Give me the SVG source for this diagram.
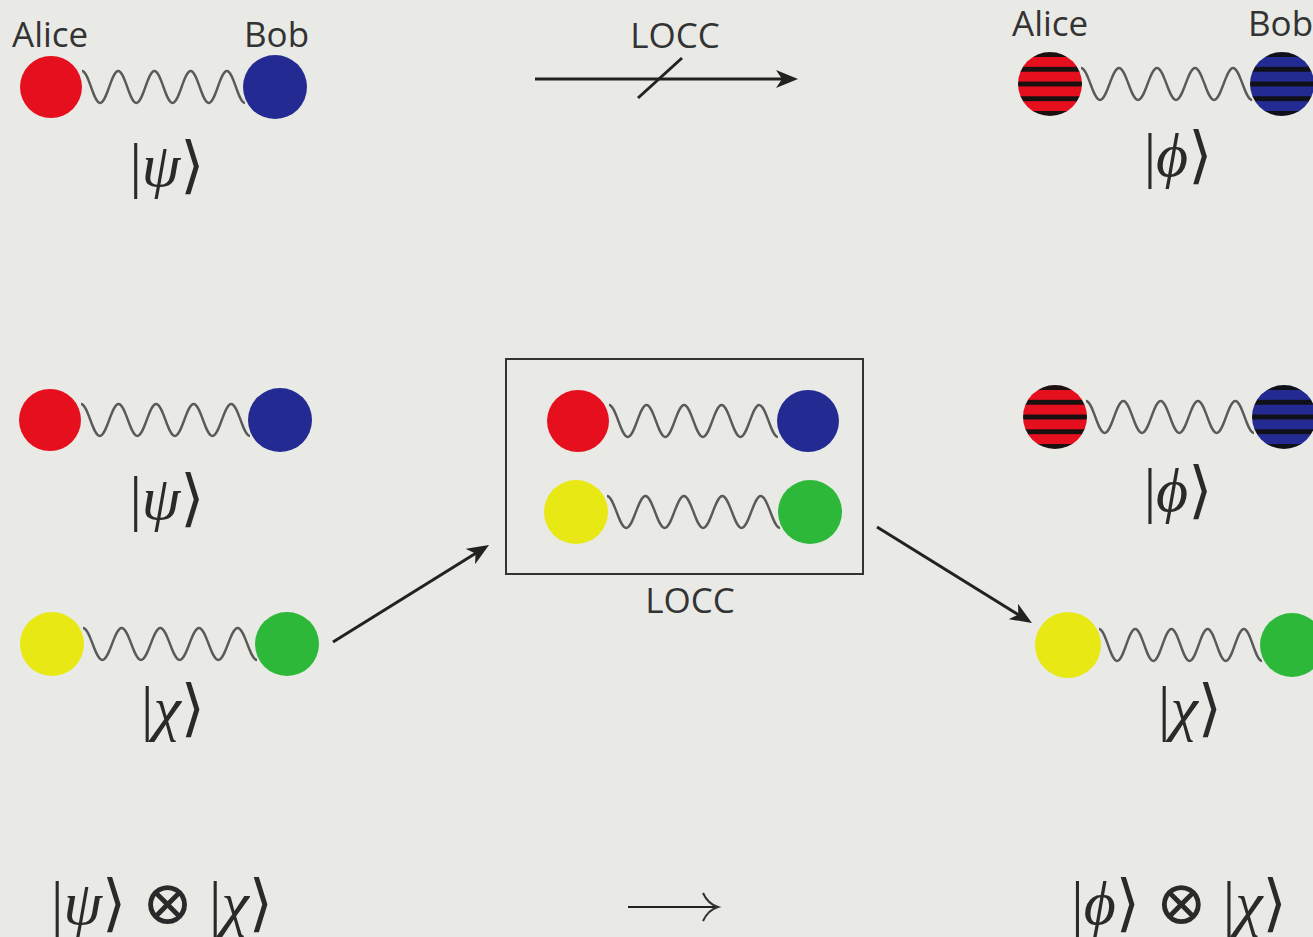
<svg xmlns="http://www.w3.org/2000/svg" xmlns:xlink="http://www.w3.org/1999/xlink" width="1313" height="937" viewBox="0 0 1313 937">
<style>
.lbl{font-family:"Open Sans","Noto Sans","DejaVu Sans",sans-serif;font-size:35px;fill:#333}
.math{font-family:"Liberation Serif","DejaVu Serif",serif;font-size:62px;fill:#2a2a2a}
.it{font-style:italic}
.wave{fill:none;stroke:#5a5a5a;stroke-width:2.4;vector-effect:non-scaling-stroke}
.con{fill:none;stroke:#222;stroke-width:3}
.red{fill:#e60f1e}.blue{fill:#232b92}.yel{fill:#e8e814}.grn{fill:#2eb83a}
</style>
<defs>
<path id="wave" class="wave" d="M0,-16 c6.8,0 11.2,32 18,32 c6.8,0 11.2,-32 18,-32 c6.8,0 11.2,32 18,32 c6.8,0 11.2,-32 18,-32 c6.8,0 11.2,32 18,32 c6.8,0 11.2,-32 18,-32 c6.8,0 11.2,32 18,32 c6.8,0 11.2,-32 18,-32 c6.8,0 11.2,32 18,32"/>
<pattern id="rs" patternUnits="objectBoundingBox" patternContentUnits="objectBoundingBox" x="0" y="0.4615" width="1" height="0.23">
<rect width="1" height="0.23" fill="#e60f1e"/><rect width="1" height="0.077" fill="#1a1010"/>
</pattern>
<pattern id="bs" patternUnits="objectBoundingBox" patternContentUnits="objectBoundingBox" x="0" y="0.4615" width="1" height="0.23">
<rect width="1" height="0.23" fill="#232b92"/><rect width="1" height="0.077" fill="#10101a"/>
</pattern>
<marker id="ah" markerUnits="userSpaceOnUse" markerWidth="22" markerHeight="18" viewBox="0 0 22 18" refX="13" refY="9" orient="auto">
<path d="M0,0 L22,9 L0,18 L6,9 z" fill="#222"/>
</marker>
</defs>
<rect width="1313" height="937" fill="#e9eae5"/>

<g id="connectors">
<path class="con" d="M535,79 H789" marker-end="url(#ah)"/>
<path class="con" d="M638,98 L682,58"/>
<path class="con" d="M333,642 L481.4,549.7" marker-end="url(#ah)"/>
<path class="con" d="M877,527 L1024.3,618.3" marker-end="url(#ah)"/>
<path d="M628,907 H716" fill="none" stroke="#222" stroke-width="2"/>
<path d="M703,893 Q708,904 718,907 Q708,910 703,921" fill="none" stroke="#333" stroke-width="2"/>
</g>

<g id="locc-top-label"><text class="lbl" x="675" y="48" text-anchor="middle">LOCC</text></g>

<g id="pair-psi-top">
<text class="lbl" x="12" y="47">Alice</text>
<text class="lbl" x="244" y="47">Bob</text>
<use href="#wave" transform="translate(82,87) scale(1.006,1)"/>
<circle class="red" cx="51" cy="87" r="31"/>
<circle class="blue" cx="275" cy="87" r="32"/>
<text class="math" x="167" y="186" text-anchor="middle">|<tspan class="it">ψ</tspan>⟩</text>
</g>

<g id="pair-phi-top">
<text class="lbl" x="1012" y="36">Alice</text>
<text class="lbl" x="1248" y="36" font-size="34">Bob</text>
<use href="#wave" transform="translate(1081,84) scale(1.056,1)"/>
<circle fill="url(#rs)" cx="1050" cy="84" r="32"/>
<circle fill="url(#bs)" cx="1282" cy="84" r="32"/>
<text class="math" x="1178" y="176" text-anchor="middle">|<tspan class="it">ϕ</tspan>⟩</text>
</g>

<g id="pair-psi-mid">
<use href="#wave" transform="translate(81,420) scale(1.043,1)"/>
<circle class="red" cx="50" cy="420" r="31"/>
<circle class="blue" cx="280" cy="420" r="32"/>
<text class="math" x="167" y="519" text-anchor="middle">|<tspan class="it">ψ</tspan>⟩</text>
</g>

<g id="pair-chi-mid">
<use href="#wave" transform="translate(83,644) scale(1.074,1)"/>
<circle class="yel" cx="52" cy="644" r="32"/>
<circle class="grn" cx="287" cy="644" r="32"/>
<text class="math" x="173" y="729" text-anchor="middle">|<tspan class="it">χ</tspan>⟩</text>
</g>

<g id="locc-box">
<rect x="506" y="359" width="357" height="215" fill="none" stroke="#333" stroke-width="2"/>
<use href="#wave" transform="translate(609,421) scale(1.043,1)"/>
<use href="#wave" transform="translate(607,512) scale(1.068,1)"/>
<circle class="red" cx="578" cy="421" r="31"/>
<circle class="blue" cx="808" cy="421" r="31"/>
<circle class="yel" cx="576" cy="512" r="32"/>
<circle class="grn" cx="810" cy="512" r="32"/>
<text class="lbl" x="690" y="613" text-anchor="middle">LOCC</text>
</g>

<g id="pair-phi-mid">
<use href="#wave" transform="translate(1086,417) scale(1.037,1)"/>
<circle fill="url(#rs)" cx="1055" cy="417" r="32"/>
<circle fill="url(#bs)" cx="1284" cy="417" r="32"/>
<text class="math" x="1178" y="511" text-anchor="middle">|<tspan class="it">ϕ</tspan>⟩</text>
</g>

<g id="pair-chi-right">
<use href="#wave" transform="translate(1099,645) scale(1.006,1)"/>
<circle class="yel" cx="1068" cy="645" r="33"/>
<circle class="grn" cx="1292" cy="645" r="32"/>
<text class="math" x="1190" y="729" text-anchor="middle">|<tspan class="it">χ</tspan>⟩</text>
</g>

<g id="eq-left"><text class="math" x="162" y="924" text-anchor="middle" font-size="66">|<tspan class="it">ψ</tspan>⟩ ⊗ |<tspan class="it">χ</tspan>⟩</text></g>
<g id="eq-right"><text class="math" x="1179" y="924" text-anchor="middle" font-size="66">|<tspan class="it">ϕ</tspan>⟩ ⊗ |<tspan class="it">χ</tspan>⟩</text></g>
</svg>
